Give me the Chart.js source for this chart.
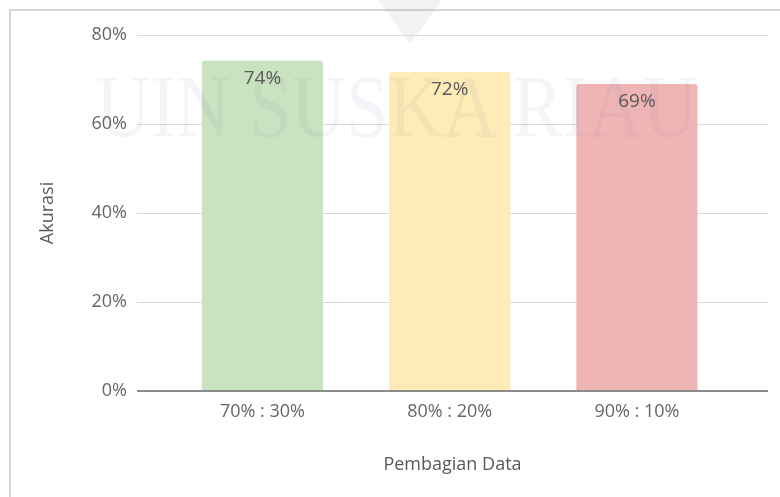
<!DOCTYPE html>
<html>
<head>
<meta charset="utf-8">
<script src="https://cdn.jsdelivr.net/npm/chart.js@4/dist/chart.umd.min.js"></script>
<style>
  html, body { margin: 0; padding: 0; background: #fff; }
  #wrap { position: relative; width: 780px; height: 497px; overflow: hidden; }
  #frame { position: absolute; left: 9px; top: 9px; width: 800px; height: 520px;
    border-top: 2px solid #d6d6d6; border-left: 2px solid #d6d6d6; }
  #tri { position: absolute; left: 378px; top: 0; width: 64px; height: 44px;
    background: rgba(0,0,0,0.05); clip-path: polygon(0 0, 100% 0, 50% 100%); }
  #mark { position: absolute; left: 96px; top: 62px; font-family: "Liberation Serif", serif;
    font-size: 88px; line-height: 90px; color: rgba(70,70,150,0.055); white-space: nowrap;
    transform-origin: 0 0; transform: scaleX(0.86); pointer-events: none; }
  canvas { position: absolute; left: 0; top: 0; }
</style>
</head>
<body>
<div id="wrap">
  <div id="frame"></div>
  <div id="tri"></div>
  <canvas id="chart" width="780" height="497"></canvas>
  <div id="mark">UIN SUSKA RIAU</div>
</div>
<script>
var categories = ['70% : 30%', '80% : 20%', '90% : 10%'];
var akurasi = [74.2, 71.7, 69.0];
var barColors = ['#c9e2c0', '#feebb6', '#efb5b5'];
var yTicks = [0, 20, 40, 60, 80];

var font = '"Open Sans", "Noto Sans", sans-serif';

var valueLabels = {
  id: 'valueLabels',
  afterDatasetsDraw: function(chart){
    var ctx = chart.ctx;
    var meta = chart.getDatasetMeta(0);
    ctx.save();
    ctx.font = '19px ' + font;
    ctx.fillStyle = '#595959';
    ctx.textAlign = 'center';
    ctx.textBaseline = 'middle';
    meta.data.forEach(function(bar, i){
      ctx.fillText(Math.round(akurasi[i]) + '%', bar.x, bar.y + 18);
    });
    ctx.restore();
  }
};

var ctx = document.getElementById('chart').getContext('2d');
new Chart(ctx, {
  type: 'bar',
  data: {
    datasets: [{
      label: 'Akurasi',
      data: akurasi.map(function(v, i){ return {x: i, y: v}; }),
      backgroundColor: barColors,
      borderWidth: 0,
      borderRadius: {topLeft: 3, topRight: 3},
      borderSkipped: 'bottom',
      categoryPercentage: 1,
      barPercentage: 0.647
    }]
  },
  plugins: [valueLabels],
  options: {
    responsive: false,
    animation: false,
    layout: { padding: {top: 35, right: 12, left: 0, bottom: 0} },
    plugins: { legend: { display: false }, tooltip: { enabled: false } },
    scales: {
      x: {
        type: 'linear',
        offset: false,
        min: -0.67,
        max: 2.70,
        afterBuildTicks: function(scale){
          scale.ticks = categories.map(function(c, i){ return {value: i}; });
        },
        afterFit: function(scale){ scale.height = 106; },
        grid: { display: false, drawTicks: false, offset: false },
        border: { display: false },
        ticks: {
          padding: 10,
          color: '#666',
          font: { family: font, size: 18 },
          callback: function(v){ return categories[v]; }
        },
        title: {
          display: true,
          text: 'Pembagian Data',
          color: '#595959',
          font: { family: font, size: 18 },
          padding: { top: 0, bottom: 21 }
        }
      },
      y: {
        min: 0,
        max: 80,
        afterBuildTicks: function(scale){
          scale.ticks = yTicks.map(function(v){ return {value: v}; });
        },
        afterFit: function(scale){ scale.width = 137; },
        grid: {
          drawTicks: false,
          color: function(c){ return c.tick.value === 0 ? '#8c8c8c' : '#d9d9d9'; },
          lineWidth: function(c){ return c.tick.value === 0 ? 2 : 1; }
        },
        border: { display: false },
        ticks: {
          padding: 10,
          color: '#666',
          font: { family: font, size: 18 },
          callback: function(v){ return v + '%'; }
        },
        title: {
          display: true,
          text: 'Akurasi',
          color: '#595959',
          font: { family: font, size: 18 },
          padding: { top: 37, bottom: 0 }
        }
      }
    }
  }
});
</script>
</body>
</html>
